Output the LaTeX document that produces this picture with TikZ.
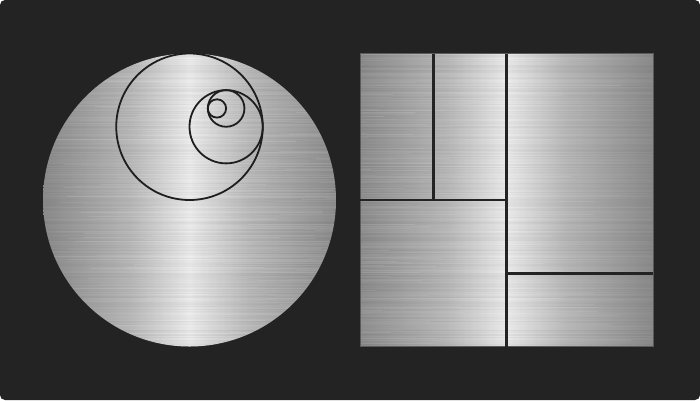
\documentclass[tikz,border=0pt]{standalone}
\usetikzlibrary{calc}
\definecolor{bgdark}{HTML}{232323}
\definecolor{metaledge}{HTML}{8E8E8E}
\definecolor{metalmid}{HTML}{BDBDBD}
\definecolor{metalhi}{HTML}{F0F0F0}
\definecolor{ringline}{HTML}{1E1E1E}
\definecolor{rimline}{HTML}{5A5A5A}
\pgfdeclarehorizontalshading{brushed}{100bp}{color(0bp)=(metaledge); color(25bp)=(metaledge);
  color(40bp)=(metalmid); color(50bp)=(metalhi); color(60bp)=(metalmid); color(75bp)=(metaledge); color(100bp)=(metaledge)}
\tikzset{
  metal/.style={shading=brushed},
  ring/.style={draw=ringline, line width=1.8pt},
  seam/.style={draw=bgdark, line width=2.8pt},
  rim/.style={draw=rimline, line width=0.8pt},
  streak/.style={line width=0.9pt},
}
\begin{document}
\begin{tikzpicture}[x=1pt, y=-1pt]
  \useasboundingbox (0,0) rectangle (700,400);
  \fill[bgdark, rounded corners=5pt] (0,0) rectangle (700,400);
  \def\R{146.5}
  % disc and spiral of rings
  \coordinate (o1) at (189.5,200);
  \coordinate (o2) at ($(o1)+(0,-\R/2)$);
  \coordinate (o3) at ($(o2)+(\R/4,0)$);
  \coordinate (o4) at ($(o3)+(0,-\R/8)$);
  \coordinate (o5) at ($(o4)+(-\R/16,0)$);
  % square panel
  \coordinate (sq1) at (360,53.5);
  \coordinate (sq2) at (653,346.5);
  \shade[metal] (o1) circle[radius=\R pt];
  \shade[metal] (sq1) rectangle (sq2);
  % brushed streaks
  \begin{scope}
    \clip (o1) circle[radius=\R pt] (sq1) rectangle (sq2);
    \pgfmathsetseed{42}
    \foreach \k in {0,...,293}{
      \pgfmathsetmacro\yy{53.5+\k}
      \pgfmathsetmacro\da{0.01+0.06*rnd}
      \pgfmathsetmacro\wa{0.02+0.09*rnd}
      \pgfmathsetmacro\xa{40+300*rnd}
      \draw[streak, draw=black, opacity=\da] (40,\yy) -- (660,\yy);
      \draw[streak, draw=white, opacity=\wa] (\xa,\yy) -- ++(260*rnd+60,0);
    }
  \end{scope}
  \draw[ring] (o2) circle[radius=\R/2 pt];
  \draw[ring] (o3) circle[radius=\R/4 pt];
  \draw[ring] (o4) circle[radius=\R/8 pt];
  \draw[ring] (o5) circle[radius=\R/16 pt];
  % seams between tiles
  \coordinate (mt) at ($(sq1)!0.5!(sq1 -| sq2)$);
  \coordinate (qt) at ($(sq1)!0.25!(sq1 -| sq2)$);
  \coordinate (rs) at ($(sq2 |- sq1)!0.75!(sq2)$);
  \draw[rim] (sq1) rectangle (sq2);
  \draw[seam] (mt) -- (mt |- sq2);
  \draw[seam] (sq1 |- o1) -- (mt |- o1);
  \draw[seam] (qt) -- (qt |- o1);
  \draw[seam] (mt |- rs) -- (rs);
\end{tikzpicture}
\end{document}
